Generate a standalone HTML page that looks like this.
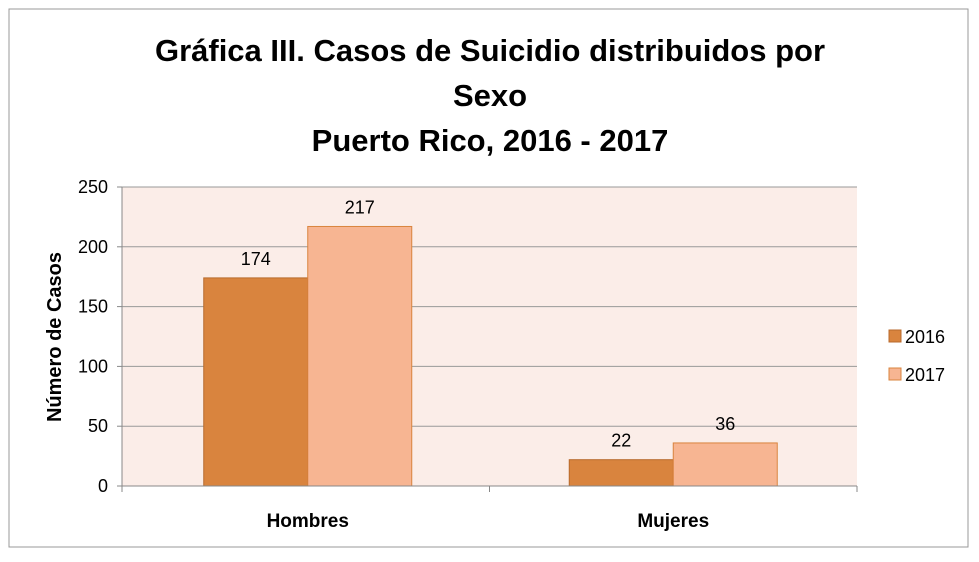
<!DOCTYPE html>
<html><head><meta charset="utf-8"><style>
body{margin:0;background:#fff;width:979px;height:557px;overflow:hidden;font-family:"Liberation Sans",sans-serif}
</style></head><body>
<svg width="979" height="557" xmlns="http://www.w3.org/2000/svg">
<rect x="9" y="9" width="959" height="538" fill="#fff" stroke="#999" stroke-width="1"/>
<g font-weight="bold" font-size="31" text-anchor="middle" fill="#000">
<text x="490" y="61">Gráfica III. Casos de Suicidio distribuidos por</text>
<text x="490" y="106">Sexo</text>
<text x="490" y="151">Puerto Rico, 2016 - 2017</text>
</g>
<rect x="122" y="187" width="735" height="299" fill="#FBEDE8"/>
<g id="grid"></g><g id="bars"></g><g id="axes"></g>
<text transform="translate(61,337) rotate(-90)" text-anchor="middle" font-weight="bold" font-size="20">Número de Casos</text>
<g font-size="18">
<rect x="889" y="330" width="12" height="12" fill="#D9843E" stroke="#B86A2C"/>
<text x="905" y="343">2016</text>
<rect x="889" y="368" width="12" height="12" fill="#F7B592" stroke="#D9843E"/>
<text x="905" y="381">2017</text>
</g>
</svg>
<script>
const categories=["Hombres","Mujeres"];
const series2016=[174,22];
const series2017=[217,36];
const yTicks=[0,50,100,150,200,250];
const NS="http://www.w3.org/2000/svg";
const x0=122,x1=857,yTop=187,yBot=486,yMax=250;
const y=v=>yBot-(v/yMax)*(yBot-yTop);
const catW=(x1-x0)/categories.length;
const bw=104;
function mk(t,a,p){const e=document.createElementNS(NS,t);for(const k in a)e.setAttribute(k,a[k]);p.appendChild(e);return e;}
const grid=document.getElementById('grid'),bars=document.getElementById('bars'),axes=document.getElementById('axes');
yTicks.forEach(t=>{
 if(t>0){const l=mk('line',{x1:x0,x2:x1,y1:y(t),y2:y(t),stroke:'#999'},grid);
 
 }
 const tk=mk('line',{x1:x0-5,x2:x0,y1:y(t),y2:y(t),stroke:'#888'},axes);
 
 
 const tx=mk('text',{x:x0-14,y:y(t)+6,'text-anchor':'end','font-size':'18'},axes);tx.textContent=t;
 
 
});
const ya=mk('line',{x1:x0,x2:x0,y1:yTop,y2:yBot,stroke:'#888'},axes);


const xa=mk('line',{x1:x0,x2:x1,y1:yBot,y2:yBot,stroke:'#888'},axes);


for(let i=0;i<=categories.length;i++){const l=mk('line',{x1:x0+i*catW,x2:x0+i*catW,y1:yBot,y2:yBot+6,stroke:'#888'},axes);
 
 }
categories.forEach((c,i)=>{
 const cx=x0+catW*(i+0.5)+(i===0?2:0);
 [[series2016,'#D9843E','#B86A2C',-bw,'2016'],[series2017,'#F7B592','#D9843E',0,'2017']].forEach(([s,f,st,off,nm])=>{
  const v=s[i];
  const r=mk('rect',{x:cx+off,y:y(v),width:bw,height:yBot-y(v),fill:f,stroke:st,'stroke-width':1},bars);
  
  
  const t=mk('text',{x:cx+off+bw/2,y:y(v)-13,'text-anchor':'middle','font-size':'18'},bars);t.textContent=v;
  
  
 });
 const lt=mk('text',{x:cx,y:527,'text-anchor':'middle','font-size':'19','font-weight':'bold'},axes);lt.textContent=c;
 
 
});
</script>
</body></html>
